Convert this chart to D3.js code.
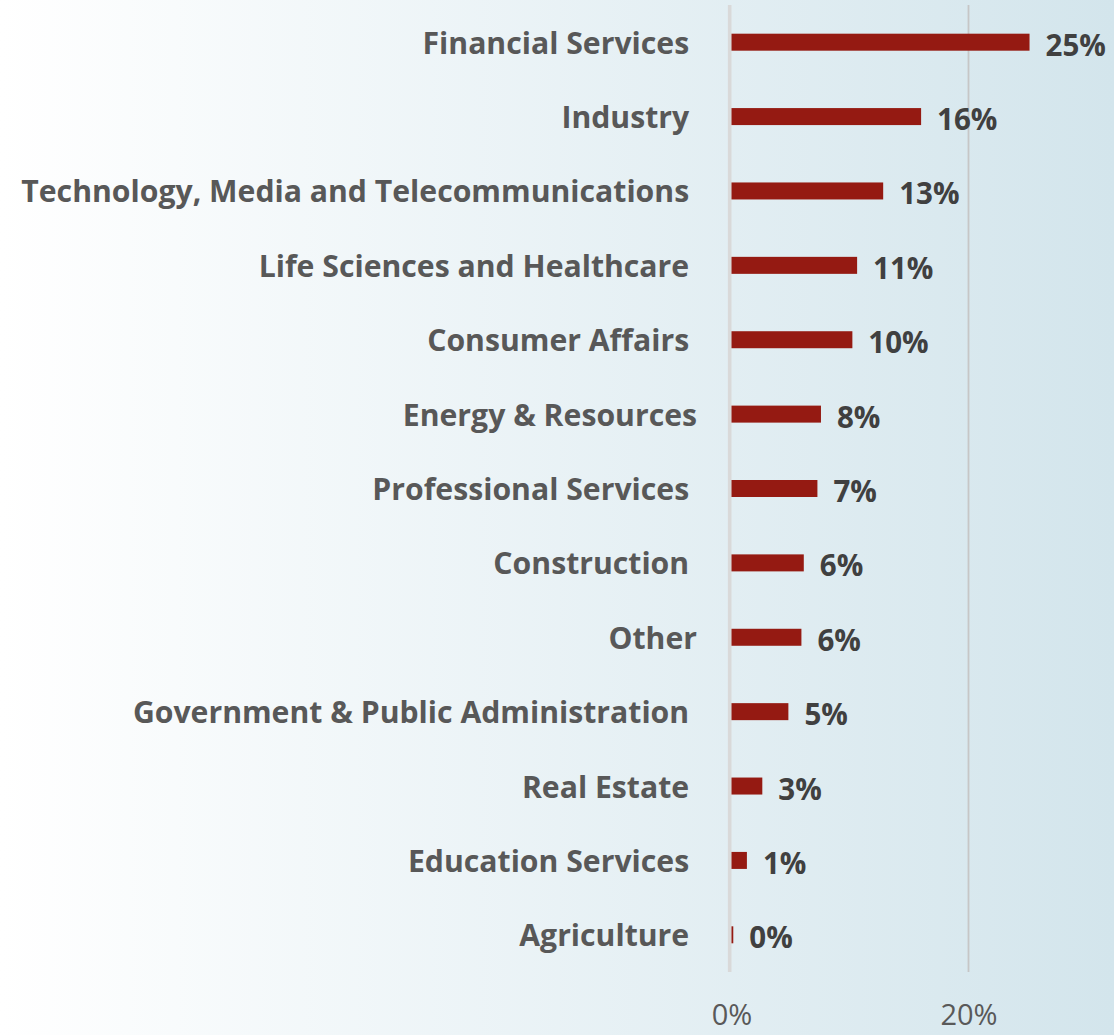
<!DOCTYPE html>
<html>
<head>
<meta charset="utf-8">
<script src="https://cdn.jsdelivr.net/npm/d3@7"></script>
<style>
  body { margin: 0; }
  svg text { font-family: "Open Sans", "Noto Sans", sans-serif; }
</style>
</head>
<body>
<svg id="chart" width="1114" height="1035"></svg>
<script>
// Share of respondents by industry sector (%)
const categories = [
  "Financial Services ",
  "Industry ",
  "Technology, Media and Telecommunications ",
  "Life Sciences and Healthcare ",
  "Consumer Affairs ",
  "Energy & Resources",
  "Professional Services ",
  "Construction ",
  "Other",
  "Government & Public Administration ",
  "Real Estate ",
  "Education Services ",
  "Agriculture "
];
const values = [25.15, 16.0, 12.8, 10.6, 10.2, 7.55, 7.25, 6.1, 5.9, 4.8, 2.6, 1.3, 0.15];
const tickValues = [0, 20];

const width = 1114, height = 1035;
const svg = d3.select("#chart");

// background wash: white on the left fading to pale blue on the right
const defs = svg.append("defs");
const grad = defs.append("linearGradient").attr("id", "bg").attr("x1", "0").attr("x2", "1").attr("y1", "0").attr("y2", "0");
grad.append("stop").attr("offset", "0").attr("stop-color", "#ffffff");
grad.append("stop").attr("offset", "1").attr("stop-color", "#d3e5ec");
svg.append("rect").attr("width", width).attr("height", height).attr("fill", "url(#bg)");

const x = d3.scaleLinear().domain([0, 30]).range([731.5, 1087]);
const y = d3.scaleBand().domain(categories).range([5, 972]).padding(0);
const barH = 17;

// vertical gridline at 20% and the baseline at 0%
svg.append("g").selectAll("line")
  .data(tickValues.filter(d => d !== 0))
  .join("line")
  .attr("x1", d => x(d)).attr("x2", d => x(d))
  .attr("y1", 5).attr("y2", 972)
  .attr("stroke", "#c6c6c6").attr("stroke-width", 1.8);

svg.append("line")
  .attr("x1", x(0) - 1.8).attr("x2", x(0) - 1.8)
  .attr("y1", 5).attr("y2", 972)
  .attr("stroke", "#d9d9d9").attr("stroke-width", 3.6);

// bars
svg.append("g").selectAll("rect")
  .data(categories)
  .join("rect")
  .attr("x", x(0))
  .attr("y", d => y(d) + y.bandwidth() / 2 - barH / 2)
  .attr("width", (d, i) => x(values[i]) - x(0))
  .attr("height", barH)
  .attr("fill", "#951a12");

// category labels
svg.append("g").selectAll("text")
  .data(categories)
  .join("text")
  .attr("x", 697)
  .attr("y", d => y(d) + y.bandwidth() / 2 + 11.5)
  .attr("text-anchor", "end")
  .style("white-space", "pre")
  .style("font-size", "30.2px")
  .style("font-weight", 700)
  .attr("fill", "#585858")
  .text(d => d);

// value labels
const fmt = v => d3.format(".0f")(v) + "%";
svg.append("g").selectAll("text")
  .data(categories)
  .join("text")
  .attr("x", (d, i) => x(values[i]) + 16)
  .attr("y", d => y(d) + y.bandwidth() / 2 + 13.5)
  .style("font-size", "29.5px")
  .style("font-weight", 700)
  .attr("fill", "#404040")
  .text((d, i) => fmt(values[i]));

// x axis tick labels
const axis = d3.axisBottom(x).tickValues(tickValues).tickSize(0).tickFormat(d => d + "%");
const ax = svg.append("g").attr("transform", "translate(0,1000)").call(axis);
ax.select(".domain").remove();
ax.selectAll("text")
  .attr("dy", null)
  .attr("y", 25)
  .style("font-size", "29px")
  .style("font-family", "\"Open Sans\", sans-serif")
  .attr("fill", "#595959");
</script>
</body>
</html>
